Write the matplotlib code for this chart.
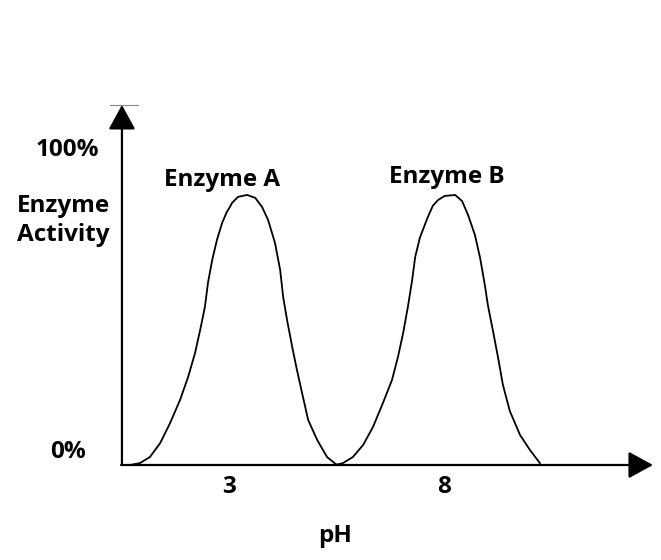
import matplotlib
matplotlib.use('Agg')
import matplotlib.pyplot as plt

plt.rcParams['font.family'] = ['Open Sans', 'DejaVu Sans']

# curves: pH vs enzyme activity (%)
phA = [0.70, 0.93, 1.16, 1.40, 1.63, 1.86, 2.05, 2.21, 2.33, 2.44, 2.51, 2.61, 2.72, 2.84, 2.95,
       3.02, 3.07, 3.21, 3.42, 3.61, 3.77, 3.91, 4.07, 4.19, 4.26, 4.35, 4.47, 4.58, 4.70, 4.84,
       5.05, 5.28, 5.51]
actA = [0, 0.6, 2.5, 6.9, 13.2, 20.4, 27.7, 35.2, 42.5, 49.7, 57.2, 64.5, 70.8, 76.1, 79.6,
        81.1, 82.4, 84.3, 84.9, 84.0, 81.1, 77.0, 69.8, 61.3, 52.8, 45.6, 37.1, 29.9, 22.6, 14.2,
        7.9, 2.5, 0]

phB = [5.47, 5.65, 5.88, 6.12, 6.35, 6.58, 6.79, 6.93, 7.05, 7.16, 7.26, 7.33, 7.44, 7.61, 7.74,
       7.86, 8.02, 8.26, 8.42, 8.56, 8.72, 8.84, 8.95, 9.02, 9.14, 9.26, 9.37, 9.53, 9.77, 10.00,
       10.23]
actB = [0, 0.6, 2.5, 6.3, 12.0, 19.5, 26.7, 34.0, 41.5, 49.7, 58.2, 65.4, 71.5, 77.5, 81.5,
        83.3, 84.6, 84.9, 83.0, 78.6, 72.3, 65.1, 56.6, 50.3, 42.1, 33.6, 25.2, 17.0, 9.4, 4.7,
        0.6]

enzymes = ['Enzyme A', 'Enzyme B']
tick_ph = [3, 8]
tick_labels = ['3', '8']

fig = plt.figure(figsize=(6.61, 5.60), dpi=100)
ax = fig.add_axes([0, 0, 1, 1])
ax.set_xlim(-2.326, 13.047)
ax.set_ylim(-29.87, 146.2)
ax.axis('off')

x0 = 0.51
# axes with arrow heads
arrow = dict(arrowstyle='-|>,head_length=0.95,head_width=0.52', mutation_scale=16,
             lw=1.6, color='black', shrinkA=0, shrinkB=0)
ax.annotate('', xy=(x0, 113.2), xytext=(x0, 0), arrowprops=arrow)
ax.annotate('', xy=(12.86, 0), xytext=(x0 - 0.02, 0), arrowprops=arrow)
ax.plot([x0 - 0.28, x0 + 0.37], [113.2, 113.2], color='#888888', lw=0.8)

ax.plot(phA, actA, color='black', lw=1.3, solid_joinstyle='round')
ax.plot(phB, actB, color='black', lw=1.3, solid_joinstyle='round')

fs = 17.5
bold = dict(fontsize=fs, fontweight='bold', va='baseline', ha='center')
ax.text(2.84, 87.7, enzymes[0], **bold)
ax.text(8.07, 88.7, enzymes[1], **bold)

ax.text(-0.76, 97.2, '100%', **bold)
ax.text(-0.85, 79.6, 'Enzyme', **bold)
ax.text(-0.86, 70.4, 'Activity', **bold)
ax.text(-0.74, 2.2, '0%', **bold)

for p, lab in zip(tick_ph, tick_labels):
    ax.text(p, -8.7, lab, **bold)

ax.text(5.47, -24.2, 'pH', **bold)

fig.savefig('out.png', dpi=100)
